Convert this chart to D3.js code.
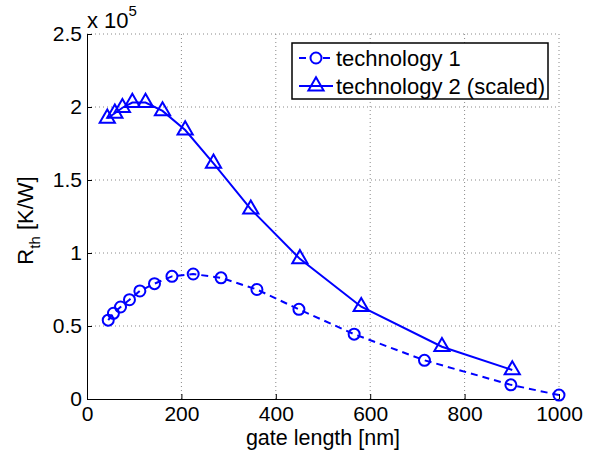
<!DOCTYPE html>
<html>
<head>
<meta charset="utf-8">
<script src="https://cdn.jsdelivr.net/npm/d3@7"></script>
<style>
  body { margin: 0; background: #fff; }
  svg { font-family: "Liberation Sans", Arial, sans-serif; }
</style>
</head>
<body>
<div id="chart"></div>
<script>
// data (R_th in units of 1e5 K/W)
var gate1 = [45, 56, 71, 90, 112, 143, 180, 225, 284, 360, 449, 566, 715, 898, 1000];
var rth1  = [0.54, 0.587, 0.63, 0.68, 0.74, 0.79, 0.84, 0.856, 0.83, 0.75, 0.614, 0.444, 0.265, 0.097, 0.027];
var gate2 = [43, 59, 75, 96, 124, 160, 208, 268, 347, 451, 581, 752, 901];
var rth2  = [1.923, 1.957, 1.995, 2.03, 2.03, 1.973, 1.842, 1.614, 1.30, 0.96, 0.632, 0.358, 0.199];
var xTicks = [0, 200, 400, 600, 800, 1000];
var yTicks = [0, 0.5, 1, 1.5, 2, 2.5];
var names = ["technology 1", "technology 2 (scaled)"];

var margin = {top: 34, right: 33, bottom: 56, left: 87},
    width = 592 - margin.left - margin.right,
    height = 455 - margin.top - margin.bottom;

var blue = "#0000ff";
var fs = "22px";

var svg = d3.select("#chart")
  .append("svg")
    .attr("width", 592)
    .attr("height", 455)
  .append("g")
    .attr("transform", "translate(" + margin.left + "," + margin.top + ")");

var x = d3.scaleLinear().domain([0, 1000]).range([0, width]);
var y = d3.scaleLinear().domain([0, 2.5]).range([height, 0]);

// dotted grid
svg.selectAll(".gx")
  .data(xTicks.slice(1))
  .enter().append("line")
    .attr("x1", function(d) { return x(d); })
    .attr("x2", function(d) { return x(d); })
    .attr("y1", 0).attr("y2", height)
    .attr("stroke", "#888").attr("stroke-width", 1)
    .attr("stroke-dasharray", "1,3");
svg.selectAll(".gy")
  .data(yTicks.slice(1))
  .enter().append("line")
    .attr("x1", 0).attr("x2", width)
    .attr("y1", function(d) { return y(d); })
    .attr("y2", function(d) { return y(d); })
    .attr("stroke", "#888").attr("stroke-width", 1)
    .attr("stroke-dasharray", "1,3");

// axes with inward ticks
var xAxis = svg.append("g")
    .attr("transform", "translate(0," + height + ")")
    .call(d3.axisBottom(x).tickValues(xTicks).tickSizeInner(-5).tickSizeOuter(0).tickPadding(7)
      .tickFormat(function(d) { return d; }));
var yAxis = svg.append("g")
    .call(d3.axisLeft(y).tickValues(yTicks).tickSizeInner(-5).tickSizeOuter(0).tickPadding(5)
      .tickFormat(function(d) { return d; }));

[xAxis, yAxis].forEach(function(a) {
  a.attr("font-size", "21px").attr("font-family", "Liberation Sans, Arial, sans-serif");
  a.select(".domain").attr("stroke", "#000").attr("stroke-width", 1);
  a.selectAll(".tick line").attr("stroke", "#000");
  a.selectAll("text").attr("fill", "#000");
});

// multiplier label
var mult = svg.append("text")
    .attr("x", 0).attr("y", -6)
    .attr("font-size", fs);
mult.append("tspan").text("x 10");
mult.append("tspan").attr("dy", -12).attr("font-size", "15px").text("5");

// axis labels
svg.append("text")
    .attr("x", width / 2)
    .attr("y", height + 46)
    .attr("text-anchor", "middle")
    .attr("font-size", "21.5px")
    .text("gate length [nm]");

var yl = svg.append("text")
    .attr("transform", "translate(" + (-54) + "," + (height / 2 + 4) + ") rotate(-90)")
    .attr("text-anchor", "middle")
    .attr("font-size", fs);
yl.append("tspan").text("R");
yl.append("tspan").attr("dy", 7).attr("font-size", "15px").text("th");
yl.append("tspan").attr("dy", -7).text(" [K/W]");

// lines
var line = d3.line()
    .x(function(d) { return x(d[0]); })
    .y(function(d) { return y(d[1]); });

var s1 = d3.zip(gate1, rth1);
var s2 = d3.zip(gate2, rth2);

svg.append("path")
    .datum(s1)
    .attr("fill", "none")
    .attr("stroke", blue)
    .attr("stroke-width", 2)
    .attr("stroke-dasharray", "7,5")
    .attr("d", line);

svg.append("path")
    .datum(s2)
    .attr("fill", "none")
    .attr("stroke", blue)
    .attr("stroke-width", 2)
    .attr("d", line);

svg.selectAll(".c1")
  .data(s1)
  .enter().append("circle")
    .attr("cx", function(d) { return x(d[0]); })
    .attr("cy", function(d) { return y(d[1]); })
    .attr("r", 5.5)
    .attr("fill", "none")
    .attr("stroke", blue)
    .attr("stroke-width", 2);

var tri = d3.symbol().type(d3.symbolTriangle).size(100);
svg.selectAll(".t2")
  .data(s2)
  .enter().append("path")
    .attr("d", tri)
    .attr("transform", function(d) { return "translate(" + x(d[0]) + "," + y(d[1]) + ")"; })
    .attr("fill", "none")
    .attr("stroke", blue)
    .attr("stroke-width", 2);

// legend
var lg = svg.append("g").attr("transform", "translate(" + (292 - margin.left) + "," + (43 - margin.top) + ")");
lg.append("rect")
    .attr("width", 256).attr("height", 56)
    .attr("fill", "#fff").attr("stroke", "#000").attr("stroke-width", 1.5);

var rows = lg.selectAll(".row")
  .data(names)
  .enter().append("g")
    .attr("transform", function(d, i) { return "translate(0," + (15 + i * 28) + ")"; });

rows.append("line")
    .attr("x1", 7).attr("x2", 41)
    .attr("stroke", blue).attr("stroke-width", 2)
    .attr("stroke-dasharray", function(d, i) { return i === 0 ? "7,5" : null; });

rows.filter(function(d, i) { return i === 0; })
  .append("circle")
    .attr("cx", 24).attr("r", 5.5)
    .attr("fill", "#fff").attr("stroke", blue).attr("stroke-width", 2);

rows.filter(function(d, i) { return i === 1; })
  .append("path")
    .attr("d", tri)
    .attr("transform", "translate(24,0)")
    .attr("fill", "none").attr("stroke", blue).attr("stroke-width", 2);

rows.append("text")
    .attr("x", 44)
    .attr("dy", "0.35em")
    .attr("font-size", fs)
    .text(function(d) { return d; });
</script>
</body>
</html>
